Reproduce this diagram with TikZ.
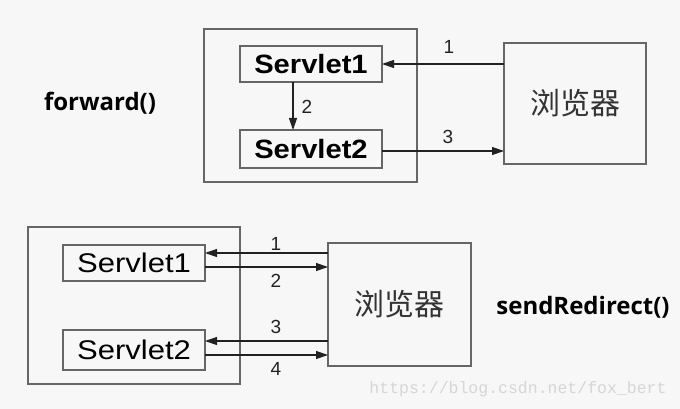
\documentclass[tikz,border=0pt]{standalone}
\usepackage{fontspec}
\setmainfont{Liberation Sans}
\newfontfamily\sbold[FakeStretch=1.1]{Liberation Sans Bold}
\newfontfamily\sreg[FakeStretch=1.15]{Liberation Sans}
\newfontfamily\lblfont{Open Sans Bold}
\newfontfamily\cjk{Noto Sans CJK SC}
\newfontfamily\wmfont{Liberation Mono}
\usetikzlibrary{arrows.meta}
\definecolor{bgcol}{HTML}{F7F7F7}
\definecolor{boxline}{HTML}{666666}
\definecolor{arrowcol}{HTML}{222222}
\definecolor{wmcol}{HTML}{D6D6D6}
\tikzset{
  outerbox/.style={draw=boxline, line width=1.3pt, fill=bgcol, inner sep=0pt, outer sep=0pt},
  servbox/.style={draw=boxline, line width=1.3pt, fill=bgcol, inner sep=0pt, outer sep=0pt, minimum width=142pt},
  browserbox/.style={draw=boxline, line width=1.3pt, fill=bgcol, inner sep=0pt, outer sep=0pt, text=black!80, font=\cjk\fontsize{30pt}{33pt}\selectfont},
  flow/.style={draw=arrowcol, line width=1.1pt, -{Triangle[length=12pt,width=8pt]}},
  num/.style={font=\fontsize{19pt}{21pt}\selectfont, text=arrowcol, inner sep=0pt},
  methodlbl/.style={font=\lblfont\fontsize{24pt}{28pt}\selectfont, inner sep=0pt}
}
\begin{document}
\begin{tikzpicture}[x=1pt,y=-1pt]
\fill[bgcol] (0,0) rectangle (680,409);
\useasboundingbox (0,0) rectangle (680,409);

% top: forward()
\node[outerbox, minimum width=213pt, minimum height=153pt] (tout) at (310.5,105.5) {};
\node[servbox, minimum height=36pt, font=\sbold\fontsize{26.5pt}{30pt}\selectfont] (ts1) at (311,64) {Servlet1};
\node[servbox, minimum height=38pt, font=\sbold\fontsize{26.5pt}{30pt}\selectfont] (ts2) at (311,149) {Servlet2};
\node[browserbox, minimum width=142pt, minimum height=121pt] (tb) at (575,103.5) {浏览器};
\draw[flow] (tb.west |- ts1.east) -- (ts1.east);
\draw[flow] ([xshift=-18pt]ts1.south) -- ([xshift=-18pt]ts2.north);
\draw[flow] ([yshift=-2pt]ts2.east) -- ([yshift=-2pt]ts2.east -| tb.west);
\node[num] (tn1) at (449,47) {1};
\node[num] (tn2) at (307,107) {2};
\node[num] (tn3) at (448,137) {3};
\node[methodlbl] (fw) at (100,103) {forward()};

% bottom: sendRedirect()
\node[outerbox, minimum width=212pt, minimum height=157pt] (bout) at (134,305.5) {};
\node[servbox, minimum height=36pt, font=\sreg\fontsize{27pt}{30pt}\selectfont] (bs1) at (134,263) {Servlet1};
\node[servbox, minimum height=40pt, font=\sreg\fontsize{27pt}{30pt}\selectfont] (bs2) at (134,350) {Servlet2};
\node[browserbox, minimum width=143pt, minimum height=123pt] (bb) at (399.5,304.5) {浏览器};
\draw[flow] ([yshift=10pt]bs1.east -| bb.west) -- ([yshift=10pt]bs1.east);
\draw[flow] ([yshift=-4pt]bs1.east) -- ([yshift=-4pt]bs1.east -| bb.west);
\draw[flow] ([yshift=9pt]bs2.east -| bb.west) -- ([yshift=9pt]bs2.east);
\draw[flow] ([yshift=-5pt]bs2.east) -- ([yshift=-5pt]bs2.east -| bb.west);
\node[num] (bn1) at (276,244) {1};
\node[num] (bn2) at (276,281) {2};
\node[num] (bn3) at (276,327) {3};
\node[num] (bn4) at (276,369) {4};
\node[methodlbl] (sr) at (583,307) {sendRedirect()};

% watermark
\node[font=\wmfont\fontsize{16.5pt}{18pt}\selectfont, text=wmcol, inner sep=0pt] (wm) at (518,389) {https://blog.csdn.net/fox\_bert};
\end{tikzpicture}
\end{document}
